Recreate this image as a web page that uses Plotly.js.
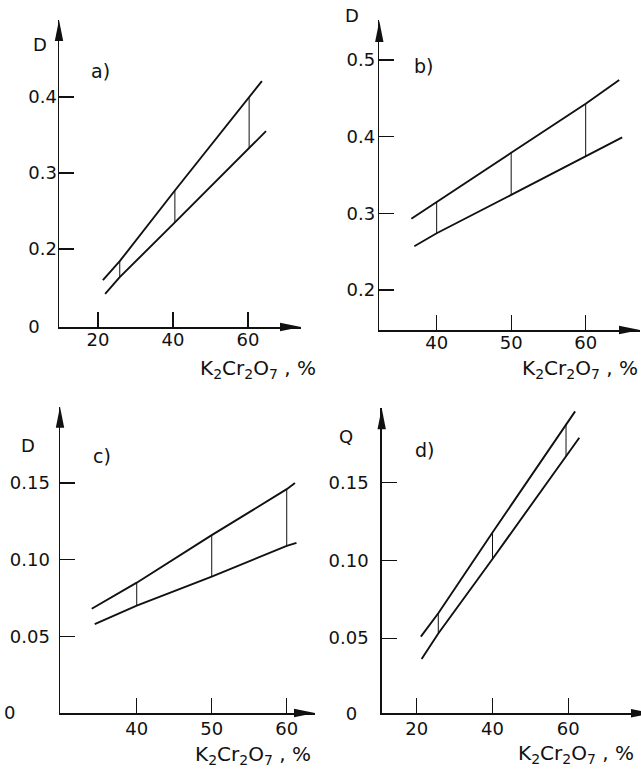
<!DOCTYPE html>
<html>
<head>
<meta charset="utf-8">
<script src="https://cdn.plot.ly/plotly-3.0.1.min.js"></script>
<style>
  html, body { margin: 0; padding: 0; background: #fff; }
  #chart { width: 641px; height: 769px; }
</style>
</head>
<body>
<div id="chart"></div>
<script>
// ---------------- DATA ----------------
// Panel a)
const aUpperX = [21.3, 25.8, 40.5, 60.3, 63.7];
const aUpperY = [0.159, 0.184, 0.277, 0.400, 0.421];
const aLowerX = [21.9, 25.8, 40.5, 60.3, 64.8];
const aLowerY = [0.141, 0.163, 0.235, 0.333, 0.355];
const aXTicks = [20, 40, 60];
const aYTicks = [0.2, 0.3, 0.4];
const aYTickText = ['0.2', '0.3', '0.4'];

// Panel b)
const bUpperX = [36.6, 40, 50, 60, 64.5];
const bUpperY = [0.293, 0.315, 0.379, 0.443, 0.474];
const bLowerX = [37.0, 40, 50, 60, 64.9];
const bLowerY = [0.257, 0.274, 0.324, 0.374, 0.399];
const bXTicks = [40, 50, 60];
const bYTicks = [0.2, 0.3, 0.4, 0.5];
const bYTickText = ['0.2', '0.3', '0.4', '0.5'];

// Panel c)
const cUpperX = [34.0, 40, 50, 60, 61.1];
const cUpperY = [0.068, 0.085, 0.116, 0.146, 0.150];
const cLowerX = [34.4, 40, 50, 60, 61.3];
const cLowerY = [0.058, 0.070, 0.089, 0.109, 0.111];
const cXTicks = [40, 50, 60];
const cYTicks = [0.05, 0.10, 0.15];
const cYTickText = ['0.05', '0.10', '0.15'];

// Panel d)
const dUpperX = [21.1, 25.7, 40, 59.4, 61.8];
const dUpperY = [0.051, 0.066, 0.118, 0.188, 0.196];
const dLowerX = [21.3, 25.7, 40, 59.4, 62.9];
const dLowerY = [0.0365, 0.053, 0.101, 0.167, 0.179];
const dXTicks = [20, 40, 60];
const dYTicks = [0.05, 0.10, 0.15];
const dYTickText = ['0.05', '0.10', '0.15'];

const panelLabels = ['a)', 'b)', 'c)', 'd)'];
const yTitles = ['D', 'D', 'D', 'Q'];
const xTitle = 'K<sub>2</sub>Cr<sub>2</sub>O<sub>7</sub> , %';
const originLabel = '0';

// ---------------- LAYOUT HELPERS ----------------
const W = 641, H = 769;
const FONT = 'DejaVu Sans, Liberation Sans, sans-serif';
const INK = '#111';
function fx(p) { return p / W; }
function fy(p) { return 1 - p / H; }

// pixel boxes of each panel: [left, right], [top, bottom]; ranges follow the reference scales
const panels = [
  { up: [aUpperX, aUpperY], lo: [aLowerX, aLowerY], xt: aXTicks, yt: aYTicks, ytt: aYTickText,
    xPx: [59, 301], yPx: [20, 327], xr: [9.6, 74.13], yr: [0.0974, 0.5013], origin: true, originPad: 3,
    standoff: -3, xstand: -4, lab: [100, 71], yt0: [40, 44], tt: [258, 369], xArrow: [301, 327], yArrow: [59, 20] },
  { up: [bUpperX, bUpperY], lo: [bLowerX, bLowerY], xt: bXTicks, yt: bYTicks, ytt: bYTickText,
    xPx: [379.3, 640], yPx: [20, 330], xr: [32.30, 67.29], yr: [0.1478, 0.5522], origin: false,
    standoff: -1, xstand: -4, lab: [423, 66], yt0: [352, 16], tt: [580, 369], xArrow: [640, 330], yArrow: [379.3, 21] },
  { up: [cUpperX, cUpperY], lo: [cLowerX, cLowerY], xt: cXTicks, yt: cYTicks, ytt: cYTickText,
    xPx: [60, 315], yPx: [406.7, 713], xr: [29.77, 63.77], yr: [0, 0.1998], origin: true, originPad: 6,
    standoff: 5, xstand: -1, lab: [102, 456], yt0: [28, 445], tt: [253, 755], xArrow: [315, 713], yArrow: [60, 406.7] },
  { up: [dUpperX, dUpperY], lo: [dLowerX, dLowerY], xt: dXTicks, yt: dYTicks, ytt: dYTickText,
    xPx: [381.7, 641], yPx: [408.3, 713.3], xr: [10.77, 79.18], yr: [0.0016, 0.198], origin: true, originPad: 2,
    standoff: 8, xstand: -1, lab: [424, 450], yt0: [346, 436], tt: [576, 754], xArrow: [652, 713.3], yArrow: [381.7, 408.3] }
];

const traces = [];
const layout = {
  width: W, height: H,
  margin: { l: 0, r: 0, t: 0, b: 0, pad: 0 },
  paper_bgcolor: '#fff', plot_bgcolor: 'rgba(0,0,0,0)',
  showlegend: false,
  font: { family: FONT, color: INK, size: 18 },
  annotations: [], shapes: []
};

function arrowPath(tip, dir) {
  const L = 21, hw = 4.2;
  let pts;
  if (dir === 'right') pts = [[tip[0], tip[1]], [tip[0] - L, tip[1] - hw], [tip[0] - L, tip[1] + hw]];
  else pts = [[tip[0], tip[1]], [tip[0] - hw, tip[1] + L], [tip[0] + hw, tip[1] + L]];
  return 'M' + pts.map(p => fx(p[0]).toFixed(5) + ',' + fy(p[1]).toFixed(5)).join(' L') + ' Z';
}

panels.forEach((p, i) => {
  const n = i === 0 ? '' : String(i + 1);
  const xa = 'x' + n, ya = 'y' + n;
  const xKey = 'xaxis' + n, yKey = 'yaxis' + n;

  // the two boundary lines
  [p.up, p.lo].forEach(s => {
    traces.push({ x: s[0], y: s[1], xaxis: xa, yaxis: ya, type: 'scatter', mode: 'lines',
      line: { color: INK, width: 1.9 }, hoverinfo: 'skip' });
  });
  // vertical connectors where both lines share an x
  const lx = [], ly = [];
  p.up[0].forEach((xv, k) => {
    const j = p.lo[0].indexOf(xv);
    if (j >= 0) { lx.push(xv, xv, null); ly.push(p.up[1][k], p.lo[1][j], null); }
  });
  traces.push({ x: lx, y: ly, xaxis: xa, yaxis: ya, type: 'scatter', mode: 'lines',
    line: { color: INK, width: 1 }, hoverinfo: 'skip' });

  const yVals = p.origin ? [p.yr[0]].concat(p.yt) : p.yt.slice();
  const yText = p.origin ? [originLabel + '\u00a0'.repeat(p.originPad)].concat(p.ytt) : p.ytt.slice();

  layout[xKey] = {
    domain: [fx(p.xPx[0]), fx(p.xPx[1])], range: p.xr, anchor: ya,
    showgrid: false, zeroline: false, showline: true, linecolor: INK, linewidth: 1.5,
    ticks: 'inside', ticklen: 15, tickwidth: 1.1, tickcolor: INK,
    tickmode: 'array', tickvals: p.xt, ticktext: p.xt.map(String), ticklabelstandoff: p.xstand,
    tickfont: { family: FONT, size: 18, color: INK }, fixedrange: true
  };
  layout[yKey] = {
    domain: [fy(p.yPx[1]), fy(p.yPx[0])], range: p.yr, anchor: xa,
    showgrid: false, zeroline: false, showline: true, linecolor: INK, linewidth: 1.5,
    ticks: 'inside', ticklen: 15, tickwidth: 1.1, tickcolor: INK,
    tickmode: 'array', tickvals: yVals, ticktext: yText, ticklabelstandoff: p.standoff,
    tickfont: { family: FONT, size: 18, color: INK }, fixedrange: true
  };

  // arrowheads on the axes
  layout.shapes.push({ type: 'path', xref: 'paper', yref: 'paper', path: arrowPath(p.xArrow, 'right'),
    fillcolor: INK, line: { width: 0 } });
  layout.shapes.push({ type: 'path', xref: 'paper', yref: 'paper', path: arrowPath(p.yArrow, 'up'),
    fillcolor: INK, line: { width: 0 } });

  // panel letter, quantity name, axis title
  layout.annotations.push({ xref: 'paper', yref: 'paper', x: fx(p.lab[0]), y: fy(p.lab[1]),
    text: panelLabels[i], showarrow: false, xanchor: 'center', yanchor: 'middle',
    font: { family: FONT, size: 19, color: INK } });
  layout.annotations.push({ xref: 'paper', yref: 'paper', x: fx(p.yt0[0]), y: fy(p.yt0[1]),
    text: yTitles[i], showarrow: false, xanchor: 'center', yanchor: 'middle',
    font: { family: FONT, size: 18, color: INK } });
  layout.annotations.push({ xref: 'paper', yref: 'paper', x: fx(p.tt[0]), y: fy(p.tt[1]),
    text: xTitle, showarrow: false, xanchor: 'center', yanchor: 'middle',
    font: { family: FONT, size: 20, color: INK } });
});

Plotly.newPlot('chart', traces, layout, { staticPlot: true, displayModeBar: false });
</script>
</body>
</html>
